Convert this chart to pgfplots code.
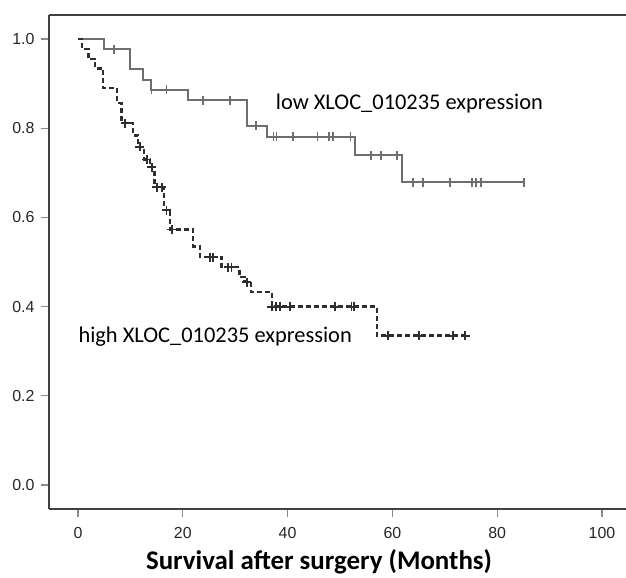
\documentclass[border=0pt]{standalone}
\usepackage{fontspec}
\setmainfont{Liberation Sans}
\newfontfamily\calibri{Carlito}
\usepackage{pgfplots}
\pgfplotsset{compat=1.18}
\definecolor{lowgray}{HTML}{6E6E6E}
\definecolor{highdark}{HTML}{2E2E2E}
\definecolor{framecol}{HTML}{404040}
\definecolor{tickcol}{HTML}{8A8A8A}

\begin{document}
\begin{tikzpicture}
\begin{axis}[
  scale only axis, width=577bp, height=494bp,
  xmin=-5.53, xmax=104.58, ymin=-0.054, ymax=1.054,
  axis x line=box, axis y line=left,
  axis line style={-, draw=framecol, line width=1.6bp},
  xtick={0,20,40,60,80,100}, ytick={0,0.2,0.4,0.6,0.8,1.0},
  xtick pos=bottom, ytick pos=left,
  tick align=outside, major tick length=8bp,
  tick style={draw=tickcol, line width=1.3bp},
  /pgf/number format/assume math mode=true,
  ticklabel style={font=\fontsize{16}{18}\selectfont, text=black!85},
  x tick label style={yshift=-7bp},
  y tick label style={xshift=-3bp, /pgf/number format/fixed, /pgf/number format/fixed zerofill, /pgf/number format/precision=1},
  xlabel={Survival after surgery (Months)},
  xlabel style={font=\calibri\bfseries\fontsize{27}{30}\selectfont, at={(axis description cs:0.468,0)}, anchor=base, yshift=-60bp},
]
% low expression group: steps
\addplot[const plot, draw=lowgray, line width=2bp] coordinates {
  (0,1.0) (5.0,0.977) (9.9,0.932) (12.4,0.908) (14.0,0.886) (21.0,0.863)
  (32.2,0.806) (36.0,0.781) (52.9,0.739) (61.8,0.679) (85.1,0.679)
};
% low group: censored
\addplot[only marks, mark=|, mark size=4.5bp, draw=lowgray, mark options={line width=1.6bp}] coordinates {
  (6.9,0.977) (14.0,0.886) (16.9,0.886) (23.9,0.863) (29.0,0.863) (34.0,0.806)
  (37.3,0.781) (37.9,0.781) (41.0,0.781) (45.7,0.781) (47.9,0.781) (48.7,0.781) (52.0,0.781)
  (55.9,0.739) (57.8,0.739) (60.9,0.739)
  (63.9,0.679) (65.8,0.679) (71.0,0.679) (75.2,0.679) (76.0,0.679) (76.9,0.679) (85.1,0.679)
};
% high expression group: steps
\addplot[const plot, draw=highdark, line width=2.3bp, dash pattern=on 5bp off 3bp] coordinates {
  (0,1.0) (0.8,0.978) (2.0,0.956) (3.3,0.934) (4.8,0.890) (7.4,0.856) (8.3,0.811)
  (10.5,0.784) (11.5,0.758) (12.6,0.730) (13.8,0.713) (14.6,0.668) (16.4,0.616)
  (17.5,0.573) (22.0,0.535) (23.3,0.511) (27.4,0.488) (30.8,0.466) (31.8,0.455)
  (33.0,0.432) (37.0,0.400) (57.0,0.335) (73.9,0.335)
};
% high group: censored
\addplot[only marks, mark=+, mark size=4.5bp, draw=highdark, mark options={line width=1.9bp}] coordinates {
  (9.0,0.811) (11.8,0.758) (13.1,0.730) (14.1,0.713) (15.0,0.668) (16.0,0.668)
  (16.9,0.616) (17.9,0.573) (25.2,0.511) (25.8,0.511) (28.7,0.488) (29.3,0.488)
  (32.2,0.455) (37.0,0.400) (37.8,0.400) (38.5,0.400) (40.5,0.400) (49.0,0.400)
  (52.2,0.400) (52.7,0.400) (59.2,0.335) (65.0,0.335) (71.6,0.335) (73.9,0.335)
};
\node[anchor=base west, font=\calibri\fontsize{22.5}{26}\selectfont] at (axis cs:37.1,0.843) {low XLOC\_010235 expression};
\node[anchor=base west, font=\calibri\fontsize{22.5}{26}\selectfont] at (axis cs:-0.57,0.320) {high XLOC\_010235 expression};
\coordinate (bl) at (rel axis cs:0,0);
\coordinate (tr) at (rel axis cs:1,1);
\end{axis}
\pgfresetboundingbox
\path ([shift={(-49bp,-69bp)}]bl) rectangle ([shift={(0bp,15bp)}]tr);
\end{tikzpicture}
\end{document}
